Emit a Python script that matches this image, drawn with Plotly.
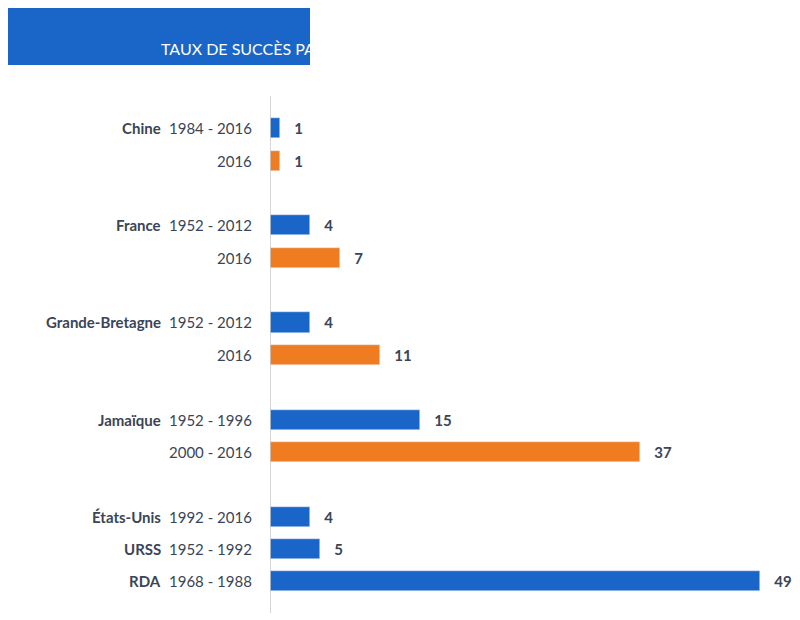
import plotly.graph_objects as go

rows = ["c1","c2","s1","f1","f2","s2","g1","g2","s3","j1","j2","s4","u","s","r"]
countries = ["Chine","","","France","","","Grande-Bretagne","","","Jamaïque","","","États-Unis","URSS","RDA"]
periods = ["1984 - 2016","2016","","1952 - 2012","2016","","1952 - 2012","2016","","1952 - 1996","2000 - 2016","","1992 - 2016","1952 - 1992","1968 - 1988"]
values = [1,1,None,4,7,None,4,11,None,15,37,None,4,5,49]
kinds = ["b","o","","b","o","","b","o","","b","o","","b","b","b"]

BLUE, ORANGE, TXT = "#1a66c8", "#f07c22", "#3a4556"
FONT = "Lato"

idx = [i for i,v in enumerate(values) if v is not None]
fig = go.Figure(go.Bar(
    y=[rows[i] for i in idx], x=[values[i] for i in idx], orientation="h",
    marker_color=[BLUE if kinds[i]=="b" else ORANGE for i in idx],
    width=0.62, text=[f"   <b>{values[i]}</b>" for i in idx], textposition="outside",
    textfont=dict(color=TXT, size=15, family=FONT), cliponaxis=False, hoverinfo="skip"))

ann = []
for i, r in enumerate(rows):
    if periods[i]:
        ann.append(dict(x=0, y=r, xref="x", yref="y", text=periods[i], showarrow=False,
                        xanchor="right", xshift=-16, font=dict(color=TXT, size=15, family=FONT)))
    if countries[i]:
        ann.append(dict(x=0, y=r, xref="x", yref="y", text=f"<b>{countries[i]}</b>", showarrow=False,
                        xanchor="right", xshift=-107, font=dict(color=TXT, size=15, family=FONT)))
ann.append(dict(x=-0.222, y=1.115, xref="paper", yref="paper", text="TAUX DE SUCCÈS PAR PAYS",
                showarrow=False, font=dict(color="white", size=16, family=FONT)))

fig.update_layout(
    width=800, height=620, margin=dict(l=262, r=38, t=88, b=15, autoexpand=False),
    plot_bgcolor="white", paper_bgcolor="white", showlegend=False, annotations=ann,
    bargap=0,
    xaxis=dict(range=[0, 50], visible=False),
    yaxis=dict(categoryorder="array", categoryarray=rows, range=[14.98, -1.0], showticklabels=False,
               showgrid=False, zeroline=False, showline=False),
    shapes=[dict(type="rect", xref="paper", yref="paper", x0=-0.524, x1=0.08, y0=1.060, y1=1.170,
                 fillcolor=BLUE, line_width=0, layer="below"),
            dict(type="line", xref="x", yref="paper", x0=0, x1=0, y0=0, y1=1,
                 line=dict(color="#c8c8c8", width=1.5))])
fig.write_html("out.html")
